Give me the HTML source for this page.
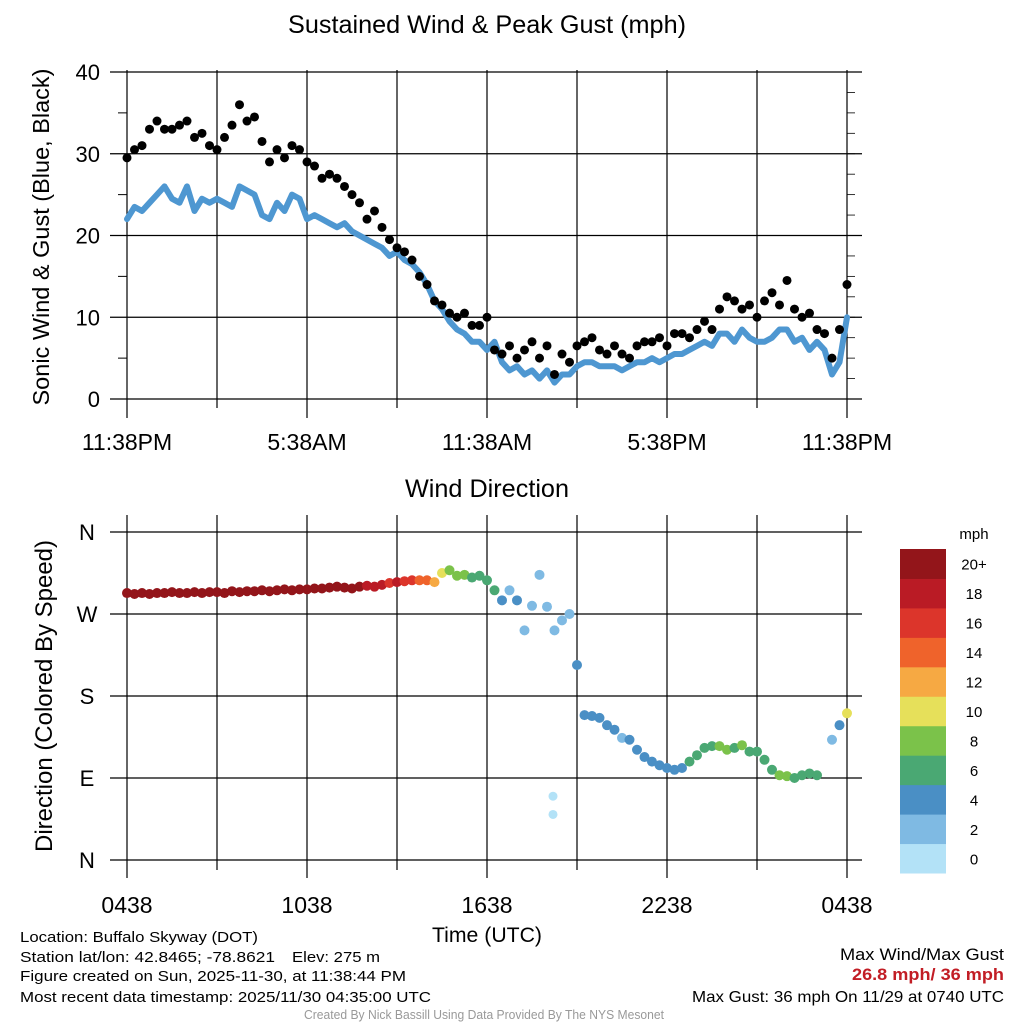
<!DOCTYPE html>
<html><head><meta charset="utf-8">
<style>
html,body{margin:0;padding:0;background:#fff;}
svg{display:block;font-family:"Liberation Sans",Arial,sans-serif;}
</style></head>
<body>
<svg id="chart" width="1024" height="1024" viewBox="0 0 1024 1024" xmlns="http://www.w3.org/2000/svg">
<rect x="0" y="0" width="1024" height="1024" fill="#fff"/>
<g id="topPanel"></g>
<g id="botPanel"></g>
<g id="legend"></g>
<text x="487" y="33" font-size="25" text-anchor="middle" textLength="398" lengthAdjust="spacingAndGlyphs">Sustained Wind &amp; Peak Gust (mph)</text>
<text x="487" y="497" font-size="25" text-anchor="middle" textLength="164" lengthAdjust="spacingAndGlyphs">Wind Direction</text>
<text transform="translate(49,237) rotate(-90)" font-size="23.5" text-anchor="middle" textLength="337" lengthAdjust="spacingAndGlyphs">Sonic Wind &amp; Gust (Blue, Black)</text>
<text transform="translate(52,696) rotate(-90)" font-size="24" text-anchor="middle" textLength="312" lengthAdjust="spacingAndGlyphs">Direction (Colored By Speed)</text>
<text x="487" y="942" font-size="21" text-anchor="middle" textLength="110" lengthAdjust="spacingAndGlyphs">Time (UTC)</text>
<text x="20" y="942" font-size="15" textLength="238" lengthAdjust="spacingAndGlyphs">Location: Buffalo Skyway (DOT)</text>
<text x="20" y="962" font-size="15" textLength="255" lengthAdjust="spacingAndGlyphs">Station lat/lon: 42.8465; -78.8621</text>
<text x="292" y="962" font-size="15" textLength="88" lengthAdjust="spacingAndGlyphs">Elev: 275 m</text>
<text x="20" y="981" font-size="15" textLength="386" lengthAdjust="spacingAndGlyphs">Figure created on Sun, 2025-11-30, at 11:38:44 PM</text>
<text x="20" y="1002" font-size="15" textLength="411" lengthAdjust="spacingAndGlyphs">Most recent data timestamp: 2025/11/30 04:35:00 UTC</text>
<text x="1004" y="960" font-size="17" text-anchor="end" textLength="164" lengthAdjust="spacingAndGlyphs">Max Wind/Max Gust</text>
<text x="1004" y="980" font-size="17" font-weight="bold" fill="#c21d25" text-anchor="end" textLength="152" lengthAdjust="spacingAndGlyphs">26.8 mph/ 36 mph</text>
<text x="1004" y="1002" font-size="16" text-anchor="end" textLength="312" lengthAdjust="spacingAndGlyphs">Max Gust: 36 mph On 11/29 at 0740 UTC</text>
<text x="484" y="1019" font-size="12.5" fill="#999" text-anchor="middle" textLength="360" lengthAdjust="spacingAndGlyphs">Created By Nick Bassill Using Data Provided By The NYS Mesonet</text>
</svg>
<script>
const sustained=[22,23.5,23,24,25,26,24.5,24,26,23,24.5,24,24.5,24,23.5,26,25.5,25,22.5,22,24,23,25,24.5,22,22.5,22,21.5,21,21.5,20.5,20,19.5,19,18.5,17.5,18,17,16.5,15.5,14,12,11,9.5,8.5,8,7,7,6,7,4.5,3.5,4,3,3.5,2.5,3.5,2,3,3,4,4.5,4.5,4,4,4,3.5,4,4.5,4.5,5,4.5,5,5.5,5.5,6,6.5,7,6.5,8,8,7,8.5,7.5,7,7,7.5,8.5,8.5,7,7.5,6,7,6,3,4.5,10];
const gust=[29.5,30.5,31,33,34,33,33,33.5,34,32,32.5,31,30.5,32,33.5,36,34,34.5,31.5,29,30.5,29.5,31,30.5,29,28.5,27,27.5,27,26,25,24,22,23,21,19.5,18.5,18,17,15,14,12,11.5,10.5,10,10.5,9,9,10,6,5.5,6.5,5,6,7,5,6.5,3,5.5,4.5,6.5,7,7.5,6,5.5,6.5,5.5,5,6.5,7,7,7.5,6.5,8,8,7.5,8.5,9.5,8.5,11,12.5,12,11,11.5,10,12,13,11.5,14.5,11,10,10.5,8.5,8,5,8.5,14];
const direction=[293,292,293,292,293,293,294,293,293,294,293,294,294,293,295,294,295,295,296,295,296,297,296,297,297,298,298,299,300,299,298,300,301,300,302,304,305,306,307,307,307,305,315,318,312,313,310,312,307,296,285,296,285,252,279,313,278,252,263,270,214,159,158,156,148,143,134,132,121,113,108,104,101,99,101,108,115,123,125,125,121,123,126,119,119,110,99,93,92,90,93,95,93,null,132,148,161];
const timeTicks=["11:38PM","5:38AM","11:38AM","5:38PM","11:38PM"];
const utcTicks=["0438","1038","1638","2238","0438"];
const speedTicks=[0,10,20,30,40];
const dirTicks=["N","E","S","W","N"];
const dirTickVals=[0,90,180,270,360];
const binLabels=["0","2","4","6","8","10","12","14","16","18","20+"];
const binColors=["#b3e2f7","#7fbae3","#4a8fc5","#4aa873","#7bc24a","#e6e05a","#f6a943","#ef632b","#dc352b","#ba1b25","#93151a"];
const outlierTimes=[14.2,14.2];
const outlierDirs=[70,50];

const NS="http://www.w3.org/2000/svg";
function mk(parent,tag,attrs){const e=document.createElementNS(NS,tag);for(const k in attrs)e.setAttribute(k,attrs[k]);parent.appendChild(e);return e;}
const X0=127,X1=847,HOURS=24;
function xs(h){return X0+(X1-X0)*h/HOURS;}
function ysp(v){return 399-v*(327/40);}
function ydir(d){return 860-d*(328/360);}
const stepH=HOURS/(sustained.length-1);
function colorFor(s){let i=Math.min(10,Math.max(0,Math.floor(s/2)));return binColors[i];}

const topG=document.getElementById('topPanel');
const botG=document.getElementById('botPanel');
for(let i=0;i<=8;i++){const x=xs(i*3);
 const l=mk(topG,'line',{x1:x,x2:x,y1:70,y2:i%2==0?418:408,stroke:'#000','stroke-width':1.2});
 
 }
speedTicks.forEach(v=>{const y=ysp(v);
 const l=mk(topG,'line',{x1:110,x2:862,y1:y,y2:y,stroke:'#000','stroke-width':1.2});
 
 
 const t=mk(topG,'text',{x:100,y:y+8,'font-size':22,'text-anchor':'end'});t.textContent=v;
 
 });
for(let v=5;v<40;v+=10){const y=ysp(v);mk(topG,'line',{x1:118,x2:127,y1:y,y2:y,stroke:'#000','stroke-width':1});}
for(let v=2.5;v<40;v+=2.5){const y=ysp(v);mk(topG,'line',{x1:847,x2:855,y1:y,y2:y,stroke:'#000','stroke-width':0.8});}
timeTicks.forEach((t,i)=>{const e=mk(topG,'text',{x:xs(i*6),y:450,'font-size':23,'text-anchor':'middle'});e.textContent=t;
 
 });
let d='';sustained.forEach((v,i)=>{d+=(i?'L':'M')+xs(i*stepH).toFixed(1)+','+ysp(v).toFixed(1);});
const sl=mk(topG,'path',{d:d,fill:'none',stroke:'#4e97d1','stroke-width':6,'stroke-linejoin':'round','stroke-linecap':'round'});


gust.forEach((v,i)=>{const c=mk(topG,'circle',{cx:xs(i*stepH),cy:ysp(v),r:4.5,fill:'#000'});
 
 });
for(let i=0;i<=8;i++){const x=xs(i*3);
 const l=mk(botG,'line',{x1:x,x2:x,y1:515,y2:i%2==0?878:870,stroke:'#000','stroke-width':1.2});
 
 }
dirTickVals.forEach((v,i)=>{const y=ydir(v);
 const l=mk(botG,'line',{x1:110,x2:862,y1:y,y2:y,stroke:'#000','stroke-width':1.2});
 
 
 const t=mk(botG,'text',{x:87,y:y+8,'font-size':22,'text-anchor':'middle'});t.textContent=dirTicks[i];
 
 });
utcTicks.forEach((t,i)=>{const e=mk(botG,'text',{x:xs(i*6),y:913,'font-size':23,'text-anchor':'middle'});e.textContent=t;
 
 });
direction.forEach((v,i)=>{if(v===null)return;const c=mk(botG,'circle',{cx:xs(i*stepH),cy:ydir(v),r:5,fill:colorFor(sustained[i])});
 
 });
outlierTimes.forEach((h,i)=>{const c=mk(botG,'circle',{cx:xs(h),cy:ydir(outlierDirs[i]),r:4.5,fill:binColors[0]});
 
 });
const lg=document.getElementById('legend');
const bh=(873-549)/11;
binColors.forEach((c,i)=>{const y=873-(i+1)*bh;
 const r=mk(lg,'rect',{x:900,y:y,width:46,height:bh+0.5,fill:c});
 
 
 const t=mk(lg,'text',{x:974,y:y+bh/2+6,'font-size':15,'text-anchor':'middle'});t.textContent=binLabels[i];
 
 });
const mt=mk(lg,'text',{x:974,y:539,'font-size':15,'text-anchor':'middle'});mt.textContent='mph';


</script>
</body></html>
